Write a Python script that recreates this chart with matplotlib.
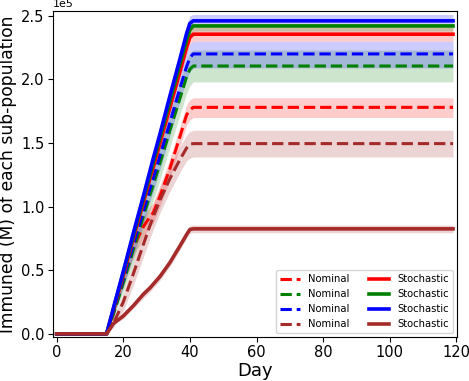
import matplotlib
matplotlib.use("Agg")
import matplotlib.pyplot as plt
import numpy as np

# Day grid (days where the curves change behaviour)
days = [0, 15, 17, 20, 23, 26, 28, 29, 31, 34, 37, 39, 40, 41, 42, 119]

# Values in units of 1e5
# Nominal series (dashed)
nom_red_mean   = [0, 0, 0.17, 0.43, 0.68, 0.84, 0.92, 0.95, 1.08, 1.30, 1.55, 1.72, 1.76, 1.78, 1.78, 1.78]
nom_red_lo     = [0, 0, 0.14, 0.37, 0.60, 0.76, 0.84, 0.87, 1.00, 1.22, 1.47, 1.64, 1.68, 1.70, 1.70, 1.70]
nom_red_hi     = [0, 0, 0.20, 0.49, 0.76, 0.92, 1.00, 1.03, 1.16, 1.38, 1.63, 1.80, 1.84, 1.855, 1.855, 1.855]

nom_green_mean = [0, 0, 0.15, 0.40, 0.66, 0.92, 1.09, 1.17, 1.34, 1.60, 1.85, 2.02, 2.08, 2.105, 2.105, 2.105]
nom_green_lo   = [0, 0, 0.12, 0.33, 0.56, 0.80, 0.97, 1.05, 1.21, 1.47, 1.72, 1.89, 1.95, 1.98, 1.98, 1.98]
nom_green_hi   = [0, 0, 0.18, 0.47, 0.76, 1.04, 1.21, 1.29, 1.47, 1.73, 1.98, 2.15, 2.21, 2.23, 2.23, 2.23]

nom_blue_mean  = [0, 0, 0.17, 0.43, 0.70, 0.96, 1.14, 1.22, 1.40, 1.66, 1.93, 2.10, 2.17, 2.20, 2.20, 2.20]
nom_blue_lo    = [0, 0, 0.14, 0.37, 0.61, 0.86, 1.04, 1.12, 1.29, 1.56, 1.83, 2.00, 2.06, 2.09, 2.09, 2.09]
nom_blue_hi    = [0, 0, 0.20, 0.49, 0.79, 1.06, 1.24, 1.33, 1.51, 1.77, 2.04, 2.21, 2.28, 2.30, 2.30, 2.30]

nom_brown_mean = [0, 0, 0.08, 0.25, 0.47, 0.70, 0.85, 0.92, 1.05, 1.22, 1.37, 1.46, 1.49, 1.495, 1.495, 1.495]
nom_brown_lo   = [0, 0, 0.05, 0.18, 0.38, 0.60, 0.75, 0.82, 0.95, 1.12, 1.27, 1.36, 1.38, 1.39, 1.39, 1.39]
nom_brown_hi   = [0, 0, 0.11, 0.32, 0.56, 0.80, 0.95, 1.02, 1.15, 1.32, 1.47, 1.56, 1.59, 1.60, 1.60, 1.60]

# Stochastic series (solid)
sto_red_mean   = [0, 0, 0.18, 0.46, 0.75, 1.03, 1.22, 1.31, 1.50, 1.78, 2.06, 2.25, 2.33, 2.355, 2.355, 2.355]
sto_red_lo     = [0, 0, 0.17, 0.44, 0.72, 0.99, 1.18, 1.27, 1.45, 1.73, 2.01, 2.20, 2.28, 2.30, 2.30, 2.30]
sto_red_hi     = [0, 0, 0.19, 0.48, 0.78, 1.07, 1.26, 1.36, 1.55, 1.84, 2.12, 2.32, 2.39, 2.41, 2.41, 2.41]

sto_green_mean = [0, 0, 0.19, 0.48, 0.77, 1.06, 1.25, 1.35, 1.54, 1.83, 2.12, 2.31, 2.39, 2.42, 2.42, 2.42]
sto_green_lo   = [0, 0, 0.18, 0.46, 0.74, 1.03, 1.22, 1.31, 1.50, 1.79, 2.08, 2.27, 2.35, 2.38, 2.38, 2.38]
sto_green_hi   = [0, 0, 0.20, 0.50, 0.80, 1.09, 1.29, 1.39, 1.58, 1.88, 2.17, 2.36, 2.42, 2.44, 2.44, 2.44]

sto_blue_mean  = [0, 0, 0.20, 0.49, 0.79, 1.08, 1.28, 1.38, 1.57, 1.87, 2.16, 2.36, 2.44, 2.46, 2.46, 2.46]
sto_blue_lo    = [0, 0, 0.19, 0.47, 0.76, 1.05, 1.24, 1.34, 1.53, 1.83, 2.12, 2.32, 2.41, 2.44, 2.44, 2.44]
sto_blue_hi    = [0, 0, 0.22, 0.52, 0.83, 1.13, 1.33, 1.43, 1.63, 1.93, 2.23, 2.43, 2.50, 2.51, 2.51, 2.51]

sto_brown_mean = [0, 0, 0.08, 0.14, 0.22, 0.31, 0.36, 0.39, 0.45, 0.56, 0.69, 0.78, 0.82, 0.825, 0.825, 0.825]
sto_brown_lo   = [0, 0, 0.07, 0.12, 0.20, 0.28, 0.33, 0.36, 0.42, 0.53, 0.66, 0.75, 0.79, 0.795, 0.795, 0.795]
sto_brown_hi   = [0, 0, 0.09, 0.16, 0.24, 0.34, 0.39, 0.42, 0.48, 0.59, 0.72, 0.81, 0.85, 0.855, 0.855, 0.855]

colors = ["red", "green", "blue", "brown"]
nominal = [(nom_red_mean, nom_red_lo, nom_red_hi),
           (nom_green_mean, nom_green_lo, nom_green_hi),
           (nom_blue_mean, nom_blue_lo, nom_blue_hi),
           (nom_brown_mean, nom_brown_lo, nom_brown_hi)]
stochastic = [(sto_red_mean, sto_red_lo, sto_red_hi),
              (sto_green_mean, sto_green_lo, sto_green_hi),
              (sto_blue_mean, sto_blue_lo, sto_blue_hi),
              (sto_brown_mean, sto_brown_lo, sto_brown_hi)]
SCALE = 1e5

fig = plt.figure(figsize=(4.69, 3.81), dpi=100)
ax = fig.add_axes([52.7 / 469, 1 - 337 / 381, (457 - 52.7) / 469, (337 - 11.3) / 381])

x = np.array(days)
handles_nom, handles_sto = [], []
for c, (m, lo, hi) in zip(colors, nominal):
    ax.fill_between(x, np.array(lo) * SCALE, np.array(hi) * SCALE, color=c, alpha=0.2, linewidth=0)
    h, = ax.plot(x, np.array(m) * SCALE, "--", color=c, linewidth=2.2, label="Nominal")
    handles_nom.append(h)
for c, (m, lo, hi) in zip(colors, stochastic):
    ax.fill_between(x, np.array(lo) * SCALE, np.array(hi) * SCALE, color=c, alpha=0.2, linewidth=0)
    h, = ax.plot(x, np.array(m) * SCALE, "-", color=c, linewidth=2.6, label="Stochastic")
    handles_sto.append(h)

ax.set_xlim(-1.19, 120.19)
ax.set_ylim(-0.025 * SCALE, 2.535 * SCALE)
ax.ticklabel_format(style="sci", axis="y", scilimits=(0, 0))
ax.tick_params(labelsize=10.5, pad=2.5)
ax.yaxis.get_offset_text().set_fontsize(8)
ax.set_xlabel("Day", fontsize=13, labelpad=1.5)
ax.set_ylabel("Immuned (M) of each sub-population", fontsize=12.3, labelpad=2.5)

ax.legend(handles_nom + handles_sto, [h.get_label() for h in handles_nom + handles_sto],
          ncol=2, loc="lower right", fontsize=7.2, borderaxespad=0.4)

fig.savefig("out.png", dpi=100)
